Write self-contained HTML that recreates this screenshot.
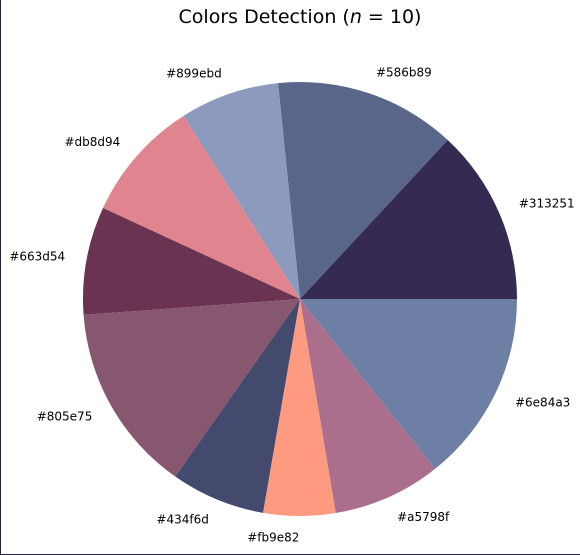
<!DOCTYPE html>
<html><head><meta charset="utf-8"><style>
html,body{margin:0;padding:0;background:#fff;}
#wrap{position:relative;width:580px;height:555px;box-sizing:border-box;border-left:1px solid #222244;border-bottom:1px solid #222244;overflow:hidden;}
svg{position:absolute;left:0;top:0;}
text{font-family:"DejaVu Sans","Liberation Sans",sans-serif;}
</style></head><body>
<div id="wrap">
<svg id="chart" width="580" height="555">
<text x="299" y="23" text-anchor="middle" font-size="19">Colors Detection (<tspan font-style="italic">n</tspan> = 10)</text>
</svg>
</div>
<script>
const labels = ["#313251","#586b89","#899ebd","#db8d94","#663d54","#805e75","#434f6d","#fb9e82","#a5798f","#6e84a3"];
const values = [47.1,48.7,26.7,32.7,29.0,50.7,25.3,19.3,29.0,51.5];
const colors = ["#352a52","#596689","#8c9abd","#e0848f","#6b3352","#87566f","#434a6d","#fe9a7f","#a96f8c","#6e7fa5"];
const svg = document.getElementById('chart');
const NS = 'http://www.w3.org/2000/svg';
const cx = 299, cy = 299, R = 217;
const total = values.reduce((a,b)=>a+b,0);
function pt(angDeg, r){ const a = angDeg*Math.PI/180; return [cx + r*Math.cos(a), cy - r*Math.sin(a)]; }
let start = 0;
values.forEach((v,i)=>{
  const sweep = v/total*360;
  const end = start + sweep;
  const [x1,y1] = pt(start,R), [x2,y2] = pt(end,R);
  const large = sweep > 180 ? 1 : 0;
  const p = document.createElementNS(NS,'path');
  p.setAttribute('d', `M${cx},${cy} L${x1},${y1} A${R},${R} 0 ${large} 0 ${x2},${y2} Z`);
  p.setAttribute('fill', colors[i]);
  
  
  svg.appendChild(p);
  const mid = start + sweep/2;
  const [lx,ly] = pt(mid, R*1.1);
  const t = document.createElementNS(NS,'text');
  const c = Math.cos(mid*Math.PI/180);
  t.setAttribute('x', lx);
  t.setAttribute('y', ly + 4);
  t.setAttribute('font-size', '12');
  t.setAttribute('text-anchor', c > 0 ? 'start' : 'end');
  t.textContent = labels[i];
  
  
  svg.appendChild(t);
  start = end;
});
</script>
</body></html>
